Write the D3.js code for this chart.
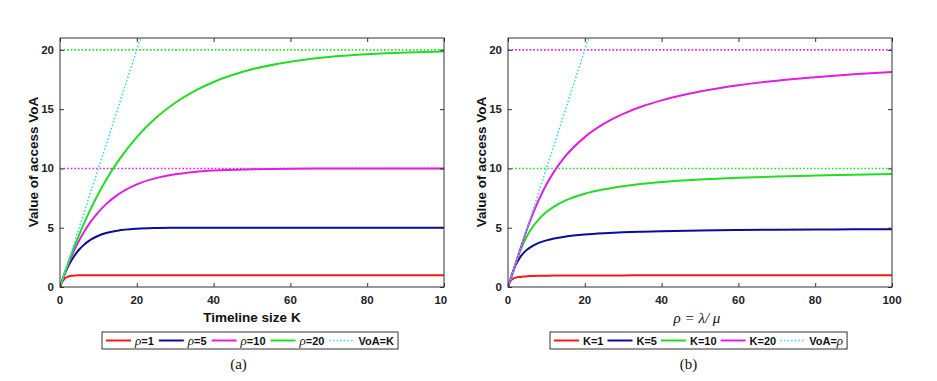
<!DOCTYPE html>
<html>
<head>
<meta charset="utf-8">
<script src="https://cdn.jsdelivr.net/npm/d3@7"></script>
<style>
  body { margin: 0; background: #fff; }
  svg { display: block; }
  .tick-label { font-family: "Liberation Sans", Arial, sans-serif; font-weight: bold; font-size: 11.5px; fill: #222; }
  .axis-title { font-family: "Liberation Sans", Arial, sans-serif; font-weight: bold; font-size: 13.5px; fill: #111; }
  .legend-text { font-family: "Liberation Sans", Arial, sans-serif; font-weight: bold; font-size: 11px; fill: #111; }
</style>
</head>
<body>
<svg id="chart" width="937" height="381"></svg>
<script>
// sample points along the x axis (K in panel a, rho in panel b)
var xGrid = [0, 0.5, 1, 2, 3, 4, 5, 6, 8, 10, 12, 15, 20, 25, 30, 35, 40, 50, 60, 70, 80, 90, 100];
var xTicks = [0, 20, 40, 60, 80, 100];
var yTicks = [0, 5, 10, 15, 20];

// panel (a): VoA vs timeline size K
var voaRho1  = [0, 0.39, 0.63, 0.86, 0.95, 0.98, 0.99, 1.00, 1.00, 1.00, 1.00, 1.00, 1.00, 1.00, 1.00, 1.00, 1.00, 1.00, 1.00, 1.00, 1.00, 1.00, 1.00];
var voaRho5  = [0, 0.48, 0.91, 1.65, 2.26, 2.75, 3.16, 3.49, 3.99, 4.32, 4.55, 4.75, 4.91, 4.97, 4.99, 5.00, 5.00, 5.00, 5.00, 5.00, 5.00, 5.00, 5.00];
var voaRho10 = [0, 0.49, 0.95, 1.81, 2.59, 3.30, 3.93, 4.51, 5.51, 6.32, 6.99, 7.77, 8.65, 9.18, 9.50, 9.70, 9.82, 9.93, 9.98, 9.99, 10.0, 10.0, 10.0];
var voaRho20 = [0, 0.49, 0.98, 1.90, 2.79, 3.63, 4.42, 5.18, 6.59, 7.87, 9.02, 10.55, 12.64, 14.27, 15.54, 16.52, 17.29, 18.36, 19.00, 19.40, 19.63, 19.78, 19.87];
// dotted limit lines: [value, series index for colour]
var levelsA = [[10, 2], [20, 3]];
var legendA = ["ρ=1", "ρ=5", "ρ=10", "ρ=20", "VoA=K"];

// panel (b): VoA vs rho = lambda/mu
var voaK1  = [0, 0.43, 0.63, 0.79, 0.85, 0.88, 0.91, 0.92, 0.94, 0.95, 0.96, 0.97, 0.98, 0.98, 0.98, 0.99, 0.99, 0.99, 0.99, 0.99, 0.99, 0.99, 1.00];
var voaK5  = [0, 0.50, 0.99, 1.84, 2.43, 2.85, 3.16, 3.39, 3.72, 3.93, 4.09, 4.25, 4.42, 4.53, 4.61, 4.66, 4.70, 4.76, 4.80, 4.83, 4.85, 4.86, 4.88];
var voaK10 = [0, 0.50, 1.00, 1.99, 2.89, 3.67, 4.32, 4.87, 5.71, 6.32, 6.78, 7.30, 7.87, 8.24, 8.50, 8.70, 8.85, 9.06, 9.21, 9.32, 9.40, 9.47, 9.52];
var voaK20 = [0, 0.50, 1.00, 2.00, 3.00, 3.97, 4.91, 5.79, 7.34, 8.65, 9.73, 11.05, 12.64, 13.77, 14.60, 15.24, 15.74, 16.48, 17.01, 17.40, 17.69, 17.94, 18.13];
var levelsB = [[10, 2], [20, 3]];
var legendB = ["K=1", "K=5", "K=10", "K=20", "VoA=ρ"];

var diagonal = [0, 25];

var red = "#ee1c1c", blue = "#0b0b9c", magenta = "#e01fe0", green = "#22dd22", cyan = "#44d6e6";

var svg = d3.select("#chart");

function drawPanel(p) {
  var x = d3.scaleLinear().domain([0, 100]).range([p.left, p.left + 384]);
  var y = d3.scaleLinear().domain([0, 21]).range([287, 38]);
  var g = svg.append("g");

  var clipId = "clip" + p.name;
  svg.append("clipPath").attr("id", clipId)
    .append("rect").attr("x", p.left).attr("y", 38).attr("width", 384).attr("height", 249);

  var plot = g.append("g").attr("clip-path", "url(#" + clipId + ")");

  // dotted saturation levels
  p.levels.forEach(function(lv) {
    plot.append("line")
      .attr("x1", x(0)).attr("x2", x(100))
      .attr("y1", y(lv[0])).attr("y2", y(lv[0]))
      .attr("stroke", p.colors[lv[1]]).attr("stroke-width", 1.6)
      .attr("stroke-dasharray", "1.6,2");
  });

  var line = d3.line()
    .x(function(d) { return x(d[0]); })
    .y(function(d) { return y(d[1]); })
    .curve(d3.curveMonotoneX);

  p.series.forEach(function(s, i) {
    plot.append("path")
      .datum(xGrid.map(function(xv, j) { return [xv, s[j]]; }))
      .attr("d", line)
      .attr("fill", "none")
      .attr("stroke", p.colors[i])
      .attr("stroke-width", 2);
  });

  // VoA = K (or rho) diagonal
  plot.append("path")
    .datum(diagonal.map(function(v) { return [v, v]; }))
    .attr("d", d3.line().x(function(d) { return x(d[0]); }).y(function(d) { return y(d[1]); }))
    .attr("fill", "none")
    .attr("stroke", cyan).attr("stroke-width", 1.6)
    .attr("stroke-dasharray", "1.6,2");

  // axes with inward ticks on all four sides
  var axisCol = "#333";
  g.append("g").attr("transform", "translate(0,287)")
    .call(d3.axisBottom(x).tickValues(xTicks).tickSize(-4).tickFormat(""))
    .call(function(a) { a.select(".domain").remove(); a.selectAll("line").attr("stroke", axisCol); });
  g.append("g").attr("transform", "translate(0,38)")
    .call(d3.axisTop(x).tickValues(xTicks).tickSize(-4).tickFormat(""))
    .call(function(a) { a.select(".domain").remove(); a.selectAll("line").attr("stroke", axisCol); });
  g.append("g").attr("transform", "translate(" + p.left + ",0)")
    .call(d3.axisLeft(y).tickValues(yTicks).tickSize(-4).tickFormat(""))
    .call(function(a) { a.select(".domain").remove(); a.selectAll("line").attr("stroke", axisCol); });
  g.append("g").attr("transform", "translate(" + (p.left + 384) + ",0)")
    .call(d3.axisRight(y).tickValues(yTicks).tickSize(-4).tickFormat(""))
    .call(function(a) { a.select(".domain").remove(); a.selectAll("line").attr("stroke", axisCol); });

  g.append("rect")
    .attr("x", p.left).attr("y", 38).attr("width", 384).attr("height", 249)
    .attr("fill", "none").attr("stroke", axisCol).attr("stroke-width", 1);

  // tick labels
  var xl = g.append("g");
  if (p.labelClip) {
    svg.append("clipPath").attr("id", "lab" + p.name)
      .append("rect").attr("x", 0).attr("y", 280).attr("width", p.labelClip).attr("height", 40);
    xl.attr("clip-path", "url(#lab" + p.name + ")");
  }
  xl.selectAll("text").data(xTicks).enter().append("text")
    .attr("class", "tick-label")
    .attr("x", function(d) { return x(d); })
    .attr("y", 304)
    .attr("text-anchor", "middle")
    .text(function(d) { return d; });

  g.selectAll("text.ylab").data(yTicks).enter().append("text")
    .attr("class", "tick-label ylab")
    .attr("x", p.left - 6)
    .attr("y", function(d) { return y(d) + 4; })
    .attr("text-anchor", "end")
    .text(function(d) { return d; });

  // axis titles
  g.append("text").attr("class", "axis-title")
    .attr("transform", "translate(" + (p.left - 22.5) + ",162) rotate(-90)")
    .attr("text-anchor", "middle")
    .text("Value of access VoA");

  p.xTitle(g, x(50));

  // legend
  var lg = g.append("g");
  var box = lg.append("rect")
    .attr("x", p.legendX).attr("y", 332).attr("height", 17)
    .attr("fill", "#fff").attr("stroke", "#333").attr("stroke-width", 1);
  var cx = p.legendX + 4;
  p.legend.forEach(function(lab, i) {
    var col = i < 4 ? p.colors[i] : cyan;
    lg.append("line")
      .attr("x1", cx).attr("x2", cx + 25).attr("y1", 340.5).attr("y2", 340.5)
      .attr("stroke", col).attr("stroke-width", i < 4 ? 2 : 1.6)
      .attr("stroke-dasharray", i < 4 ? null : "1.6,2");
    var t = lg.append("text").attr("class", "legend-text")
      .attr("x", cx + 29).attr("y", 344.5);
    var parts = lab.split("ρ");
    parts.forEach(function(part, k) {
      if (k > 0) {
        t.append("tspan").attr("font-family", "Liberation Serif, serif").attr("font-style", "italic")
          .attr("font-weight", "normal").attr("font-size", "13px").text("ρ");
      }
      if (part) t.append("tspan").text(part);
    });
    cx += 29 + t.node().getComputedTextLength() + p.legendGap;
  });
  box.attr("width", cx - p.legendX - p.legendGap + 4);

  // panel caption
  g.append("text")
    .attr("x", p.captionX).attr("y", 369)
    .attr("text-anchor", "middle")
    .attr("font-family", "Liberation Serif, serif").attr("font-size", "15px").attr("fill", "#111")
    .text(p.caption);
}

drawPanel({
  name: "a", left: 60,
  series: [voaRho1, voaRho5, voaRho10, voaRho20],
  colors: [red, blue, magenta, green],
  levels: levelsA,
  legend: legendA, legendX: 102, legendGap: 5,
  labelClip: 447,
  caption: "(a)", captionX: 238.5,
  xTitle: function(g, cx) {
    g.append("text").attr("class", "axis-title")
      .attr("x", cx).attr("y", 322).attr("text-anchor", "middle")
      .text("Timeline size K");
  }
});

drawPanel({
  name: "b", left: 508,
  series: [voaK1, voaK5, voaK10, voaK20],
  colors: [red, blue, green, magenta],
  levels: levelsB,
  legend: legendB, legendX: 550, legendGap: 4,
  caption: "(b)", captionX: 688.5,
  xTitle: function(g, cx) {
    g.append("text")
      .attr("x", cx - 3).attr("y", 323).attr("text-anchor", "middle")
      .attr("font-family", "Liberation Serif, serif").attr("font-style", "italic")
      .attr("font-size", "15px").attr("fill", "#111")
      .text("ρ = λ/ μ");
  }
});
</script>
</body>
</html>
